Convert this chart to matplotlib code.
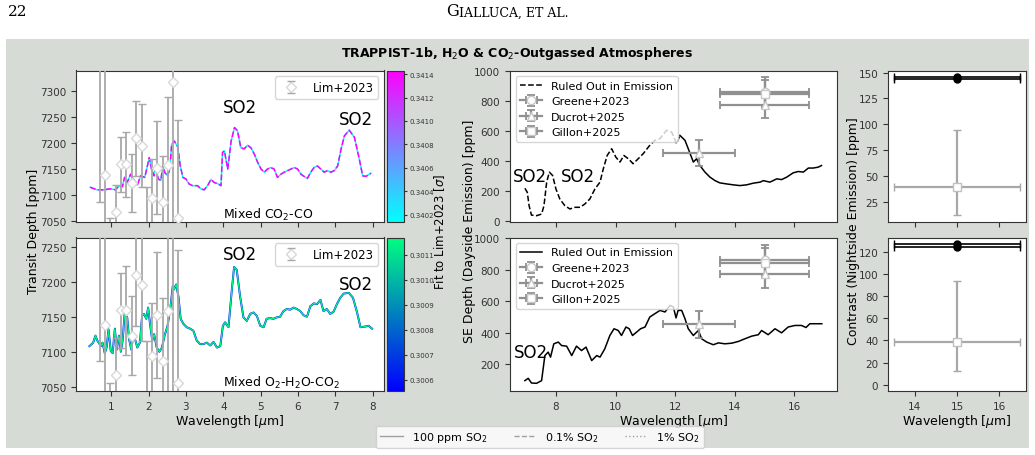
import matplotlib.pyplot as plt
from matplotlib.cm import ScalarMappable
from matplotlib.colors import Normalize
from matplotlib.lines import Line2D
from matplotlib.patches import Rectangle
from matplotlib.ticker import FormatStrFormatter

# ---- transit spectra (left panels) ----
TL_WAVE = [0.44, 0.62, 0.80, 0.98, 1.12, 1.21, 1.30, 1.36, 1.43, 1.52, 1.59, 1.70, 1.79, 1.90, 1.97,
           2.02, 2.08, 2.15, 2.19, 2.26, 2.33, 2.38, 2.44, 2.51, 2.57, 2.62, 2.69, 2.78, 2.85, 2.92,
           3.00, 3.09, 3.18, 3.31, 3.40, 3.49, 3.58, 3.67, 3.76, 3.85, 3.94, 3.98, 4.03, 4.12, 4.21,
           4.30, 4.38, 4.47, 4.56, 4.65, 4.74, 4.83, 4.92, 5.01, 5.10, 5.18, 5.27, 5.36, 5.45, 5.54,
           5.63, 5.72, 5.81, 5.90, 5.99, 6.08, 6.16, 6.25, 6.34, 6.43, 6.52, 6.61, 6.70, 6.79, 6.88,
           6.97, 7.06, 7.15, 7.24, 7.37, 7.51, 7.64, 7.73, 7.82, 7.95]
TL_DEPTH = [7115, 7110, 7110, 7112, 7110, 7118, 7116, 7134, 7124, 7140, 7131, 7119, 7137, 7134, 7156,
            7172, 7150, 7137, 7156, 7131, 7128, 7156, 7143, 7137, 7150, 7198, 7204, 7193, 7156, 7134,
            7131, 7121, 7118, 7118, 7112, 7110, 7118, 7130, 7124, 7122, 7118, 7182, 7185, 7150, 7204,
            7230, 7224, 7191, 7189, 7196, 7191, 7179, 7163, 7150, 7144, 7150, 7153, 7150, 7134, 7140,
            7144, 7147, 7150, 7153, 7150, 7140, 7136, 7132, 7144, 7153, 7156, 7150, 7144, 7147, 7144,
            7147, 7156, 7188, 7214, 7225, 7211, 7169, 7137, 7136, 7142]

BL_WAVE = [0.42, 0.52, 0.58, 0.63, 0.69, 0.73, 0.77, 0.83, 0.88, 0.93, 0.99, 1.04, 1.10, 1.15, 1.21,
           1.26, 1.31, 1.36, 1.43, 1.48, 1.54, 1.59, 1.65, 1.70, 1.77, 1.83, 1.88, 1.94, 1.99, 2.04,
           2.10, 2.15, 2.22, 2.29, 2.36, 2.43, 2.51, 2.59, 2.65, 2.68, 2.74, 2.80, 2.86, 2.93, 3.02,
           3.11, 3.20, 3.29, 3.38, 3.47, 3.56, 3.65, 3.74, 3.83, 3.92, 3.99, 4.05, 4.14, 4.23, 4.29,
           4.36, 4.45, 4.54, 4.63, 4.72, 4.81, 4.90, 4.99, 5.08, 5.16, 5.25, 5.34, 5.43, 5.52, 5.61,
           5.70, 5.79, 5.88, 5.97, 6.06, 6.15, 6.24, 6.33, 6.42, 6.51, 6.60, 6.68, 6.77, 6.86, 6.95,
           7.04, 7.13, 7.22, 7.36, 7.47, 7.58, 7.67, 7.80, 7.89, 7.98]
BL_DEPTH = [7108, 7113, 7123, 7116, 7111, 7108, 7113, 7098, 7106, 7132, 7101, 7098, 7133, 7103, 7123,
            7100, 7117, 7154, 7149, 7118, 7103, 7123, 7116, 7106, 7113, 7152, 7154, 7147, 7163, 7140,
            7116, 7125, 7106, 7100, 7106, 7123, 7137, 7165, 7194, 7189, 7196, 7179, 7147, 7140, 7135,
            7133, 7130, 7116, 7111, 7111, 7113, 7109, 7114, 7106, 7108, 7137, 7142, 7135, 7189, 7221,
            7217, 7179, 7149, 7144, 7154, 7156, 7151, 7137, 7135, 7147, 7148, 7147, 7149, 7150, 7158,
            7161, 7160, 7163, 7161, 7158, 7152, 7150, 7165, 7169, 7168, 7174, 7158, 7161, 7154, 7157,
            7168, 7177, 7183, 7184, 7177, 7156, 7135, 7136, 7137, 7133]

LIM_WAVE = [0.71, 0.84, 0.97, 1.13, 1.26, 1.40, 1.55, 1.67, 1.82, 1.97, 2.10, 2.22, 2.38, 2.52, 2.65, 2.80]
LIM_DEPTH = [7420, 7138, 7000, 7067, 7159, 7159, 7123, 7209, 7195, 7000, 7094, 7153, 7087, 7158, 7318, 7055]
LIM_ERR = [333, 330, 56, 52, 53, 63, 56, 72, 80, 115, 75, 90, 89, 130, 300, 190]

# ---- dayside emission (middle panels) ----
MT_WAVE = [6.96, 7.04, 7.10, 7.18, 7.35, 7.52, 7.60, 7.69, 7.78, 7.89, 8.00, 8.13, 8.30, 8.47, 8.64,
           8.81, 8.97, 9.14, 9.31, 9.48, 9.59, 9.72, 9.87, 10.01, 10.15, 10.28, 10.43, 10.59, 10.76, 10.93,
           11.13, 11.32, 11.49, 11.71, 11.88, 12.05, 12.16, 12.33, 12.44, 12.61, 12.72, 12.83, 13.00, 13.17,
           13.34, 13.50, 13.73, 13.95, 14.17, 14.40, 14.62, 14.85, 14.96, 15.18, 15.41, 15.57, 15.74, 15.96,
           16.13, 16.30, 16.47, 16.63, 16.80, 16.91]
MT_DEPTH = [217, 190, 101, 38, 34, 45, 101, 258, 325, 302, 213, 146, 101, 79, 90,
            90, 112, 146, 213, 258, 347, 436, 481, 425, 392, 436, 414, 381, 414, 448,
            499, 537, 548, 604, 593, 515, 570, 537, 481, 392, 414, 369, 325, 291,
            268, 253, 246, 240, 235, 240, 251, 258, 268, 258, 280, 275, 291, 320,
            329, 325, 352, 352, 358, 369]
MT_SPLIT = 37

MB_WAVE = [6.96, 7.07, 7.18, 7.35, 7.52, 7.63, 7.74, 7.82, 7.93, 8.08, 8.19, 8.36, 8.53, 8.69, 8.86,
           9.01, 9.20, 9.37, 9.48, 9.64, 9.81, 9.95, 10.09, 10.20, 10.35, 10.46, 10.57, 10.71, 10.84, 10.99,
           11.15, 11.32, 11.49, 11.66, 11.83, 11.94, 12.03, 12.10, 12.22, 12.33, 12.44, 12.61, 12.78, 12.89,
           13.06, 13.28, 13.45, 13.67, 13.90, 14.12, 14.34, 14.57, 14.79, 14.90, 15.12, 15.35, 15.57, 15.79,
           16.02, 16.24, 16.39, 16.52, 16.75, 16.92]
MB_DEPTH = [93, 108, 78, 76, 93, 253, 275, 243, 328, 339, 317, 313, 253, 313, 285,
            307, 221, 253, 243, 296, 381, 424, 413, 381, 435, 424, 381, 403, 424, 435,
            499, 520, 541, 531, 573, 563, 493, 541, 541, 488, 424, 381, 413, 360,
            339, 322, 334, 328, 332, 343, 360, 377, 386, 413, 386, 424, 398, 435,
            445, 445, 432, 456, 456, 456]

GREENE = dict(wave=[15.0], depth=[861], xerr=[1.5], yerr=[99])
DUCROT = dict(wave=[12.8, 15.0], depth=[452, 775], xerr=[1.22, 1.5], yerr=[86, 90])
GILLON = dict(wave=[15.0], depth=[845], xerr=[1.5], yerr=[95])

# ---- nightside contrast (right panels) ----
NIGHT_WAVE = 15.0
NIGHT_XERR = 1.5
NIGHT_TOP_MODELS = [144, 146]
NIGHT_BOT_MODELS = [124, 127]
GILLON_NIGHT = 39
GILLON_NIGHT_ERR = [[27], [55]]

TOP_CBAR = (0.34014, 0.34143, [0.3402, 0.3404, 0.3406, 0.3408, 0.3410, 0.3412, 0.3414])
BOT_CBAR = (0.300555, 0.301168, [0.3006, 0.3007, 0.3008, 0.3009, 0.3010, 0.3011])

W, H = 1035, 456
BG = '#d6dbd6'
DATA_GRAY = '#a8a8a8'
plt.rcParams['axes.edgecolor'] = '#333333'
plt.rcParams['xtick.color'] = '#333333'
plt.rcParams['ytick.color'] = '#333333'
plt.rcParams['xtick.labelsize'] = 7.5
plt.rcParams['ytick.labelsize'] = 7.5
plt.rcParams['legend.fontsize'] = 8


def box(x0, y0, x1, y1):
    return [x0 / W, 1 - y1 / H, (x1 - x0) / W, (y1 - y0) / H]


fig = plt.figure(figsize=(W / 100, H / 100), dpi=100)
fig.patches.append(Rectangle((6 / W, 1 - 449 / H), 1023 / W, 409 / H, transform=fig.transFigure,
                             facecolor=BG, edgecolor='none', zorder=-10))

fig.text(8 / W, 1 - 12 / H, '22', family='DejaVu Serif', fontsize=11, va='center')
fig.text(459 / W, 1 - 12 / H, 'G', family='DejaVu Serif', fontsize=11.5, va='center', ha='right')
fig.text(459 / W, 1 - 12.8 / H, 'IALLUCA, ET AL.', family='DejaVu Serif', fontsize=9,
         va='center', ha='left')
fig.text(517 / W, 1 - 53 / H, r'TRAPPIST-1b, H$_2$O & CO$_2$-Outgassed Atmospheres',
         fontsize=9, weight='bold', ha='center', va='center')

ax_tl = fig.add_axes(box(76, 71.5, 384, 223))
ax_bl = fig.add_axes(box(76, 238.5, 384, 392))
cax_t = fig.add_axes(box(387, 71.5, 404, 223))
cax_b = fig.add_axes(box(387, 238.5, 404, 392))
ax_mt = fig.add_axes(box(510, 71.5, 837, 223))
ax_mb = fig.add_axes(box(510, 238.5, 837, 392))
ax_rt = fig.add_axes(box(888, 71.5, 1026, 223))
ax_rb = fig.add_axes(box(888, 238.5, 1026, 392))


def lim_points(ax):
    ax.errorbar(LIM_WAVE, LIM_DEPTH, yerr=LIM_ERR, fmt='D', ms=5.5, mfc='white', mec='#d8d8d8',
                ecolor=DATA_GRAY, elinewidth=1.3, capsize=3, capthick=1.0, zorder=3, label='Lim+2023')
    ax.legend(loc='upper right', fontsize=8.5)


# top-left: mixed CO2-CO
ax_tl.plot(TL_WAVE, TL_DEPTH, color=plt.cm.cool(0.0), lw=1.1, zorder=2)
ax_tl.plot(TL_WAVE, TL_DEPTH, color=plt.cm.cool(1.0), lw=1.1, ls='--', zorder=2)
lim_points(ax_tl)
ax_tl.set_xlim(0.06, 8.3)
ax_tl.set_ylim(7048, 7340)
ax_tl.set_yticks([7050, 7100, 7150, 7200, 7250, 7300])
ax_tl.set_xticks(range(1, 9))
ax_tl.tick_params(labelbottom=False)
ax_tl.text(3.98, 7269, 'SO2', fontsize=12, va='center')
ax_tl.text(7.09, 7246, 'SO2', fontsize=12, va='center')
ax_tl.text(4.0, 0.055, r'Mixed CO$_2$-CO', transform=ax_tl.get_xaxis_transform(), fontsize=9, va='center')

# bottom-left: mixed O2-H2O-CO2
ax_bl.plot(BL_WAVE, BL_DEPTH, color=plt.cm.winter(0.0), lw=1.4, zorder=2)
ax_bl.plot(BL_WAVE, BL_DEPTH, color=plt.cm.winter(0.95), lw=1.0, zorder=2)
lim_points(ax_bl)
ax_bl.set_xlim(0.06, 8.3)
ax_bl.set_ylim(7044, 7263)
ax_bl.set_yticks([7050, 7100, 7150, 7200, 7250])
ax_bl.set_xticks(range(1, 9))
ax_bl.text(3.98, 7239, 'SO2', fontsize=12, va='center')
ax_bl.text(7.09, 7196, 'SO2', fontsize=12, va='center')
ax_bl.text(4.0, 0.058, r'Mixed O$_2$-H$_2$O-CO$_2$', transform=ax_bl.get_xaxis_transform(),
           fontsize=9, va='center')
ax_bl.set_xlabel(r'Wavelength [$\mu$m]', fontsize=9, labelpad=1)

for cax, (vmin, vmax, ticks), cmap in [(cax_t, TOP_CBAR, 'cool'), (cax_b, BOT_CBAR, 'winter')]:
    cb = fig.colorbar(ScalarMappable(norm=Normalize(vmin, vmax), cmap=cmap), cax=cax)
    cb.set_ticks(ticks)
    cb.ax.yaxis.set_major_formatter(FormatStrFormatter('%.4f'))
    cb.ax.tick_params(labelsize=5, length=2.5, pad=1.5)
fig.text(440 / W, 1 - 231.5 / H, r'Fit to Lim+2023 [$\sigma$]', rotation=90, fontsize=8.5,
         ha='center', va='center')
fig.text(33 / W, 1 - 231.5 / H, 'Transit Depth [ppm]', rotation=90, fontsize=9, ha='center', va='center')


def emission_points(ax):
    kw = dict(color='#909090', mfc='white', mec='#c8c8c8', elinewidth=1.6, capsize=3,
              capthick=1.3, ms=6, lw=1.6, zorder=4)
    for obs, marker, name in [(GREENE, 'o', 'Greene+2023'), (DUCROT, '^', 'Ducrot+2025'),
                              (GILLON, 's', 'Gillon+2025')]:
        # one call per point so no connecting line is drawn, but the legend keeps one
        for i in range(len(obs['wave'])):
            ax.errorbar(obs['wave'][i], obs['depth'][i], xerr=obs['xerr'][i], yerr=obs['yerr'][i],
                        marker=marker, ls='-', label=name if i == 0 else None, **kw)
    ax.legend(loc='upper left', fontsize=8)
    ax.set_xlim(6.46, 17.43)
    ax.set_xticks([8, 10, 12, 14, 16])


ax_mt.plot(MT_WAVE[:MT_SPLIT], MT_DEPTH[:MT_SPLIT], color='black', lw=1.1, ls='--',
           label='Ruled Out in Emission', zorder=2)
ax_mt.plot(MT_WAVE[MT_SPLIT - 1:], MT_DEPTH[MT_SPLIT - 1:], color='black', lw=1.1, zorder=2)
emission_points(ax_mt)
ax_mt.set_ylim(-8, 1003)
ax_mt.set_yticks([0, 200, 400, 600, 800, 1000])
ax_mt.tick_params(labelbottom=False)
ax_mt.text(6.56, 300, 'SO2', fontsize=12, va='center')
ax_mt.text(8.17, 300, 'SO2', fontsize=12, va='center')

ax_mb.plot(MB_WAVE, MB_DEPTH, color='black', lw=1.1, label='Ruled Out in Emission', zorder=2)
emission_points(ax_mb)
ax_mb.set_ylim(27, 1006)
ax_mb.set_yticks([200, 400, 600, 800, 1000])
ax_mb.text(6.59, 277, 'SO2', fontsize=12, va='center')
ax_mb.set_xlabel(r'Wavelength [$\mu$m]', fontsize=9, labelpad=1)
fig.text(469 / W, 1 - 231.5 / H, 'SE Depth (Dayside Emission) [ppm]', rotation=90, fontsize=9,
         ha='center', va='center')


def night_panel(ax, models):
    ax.errorbar([NIGHT_WAVE] * len(models), models, xerr=NIGHT_XERR, fmt='o', color='black', ms=5,
                elinewidth=1.2, capsize=3, zorder=3)
    ax.errorbar([NIGHT_WAVE], [GILLON_NIGHT], xerr=NIGHT_XERR, yerr=GILLON_NIGHT_ERR, fmt='s',
                ecolor='#a8a8a8', mfc='white', mec='#c0c0c0', ms=6, elinewidth=1.6, capsize=3, zorder=3)
    ax.set_xlim(13.36, 16.64)
    ax.set_xticks([14, 15, 16])


night_panel(ax_rt, NIGHT_TOP_MODELS)
ax_rt.set_ylim(5.3, 152)
ax_rt.set_yticks([25, 50, 75, 100, 125, 150])
ax_rt.tick_params(labelbottom=False)
night_panel(ax_rb, NIGHT_BOT_MODELS)
ax_rb.set_ylim(-5.7, 133)
ax_rb.set_yticks([0, 20, 40, 60, 80, 100, 120])
ax_rb.set_xlabel(r'Wavelength [$\mu$m]', fontsize=9, labelpad=1)
fig.text(853 / W, 1 - 231.5 / H, 'Contrast (Nightside Emission) [ppm]', rotation=90, fontsize=9,
         ha='center', va='center')

handles = [Line2D([], [], color='#a0a0a0', lw=1.0, ls=ls) for ls in ['-', '--', ':']]
fig.legend(handles, [r'100 ppm SO$_2$', r'0.1% SO$_2$', r'1% SO$_2$'], loc='center',
           bbox_to_anchor=(540 / W, 1 - 438 / H), ncol=3, fontsize=8, columnspacing=2.4)

fig.savefig('out.png', dpi=100)
